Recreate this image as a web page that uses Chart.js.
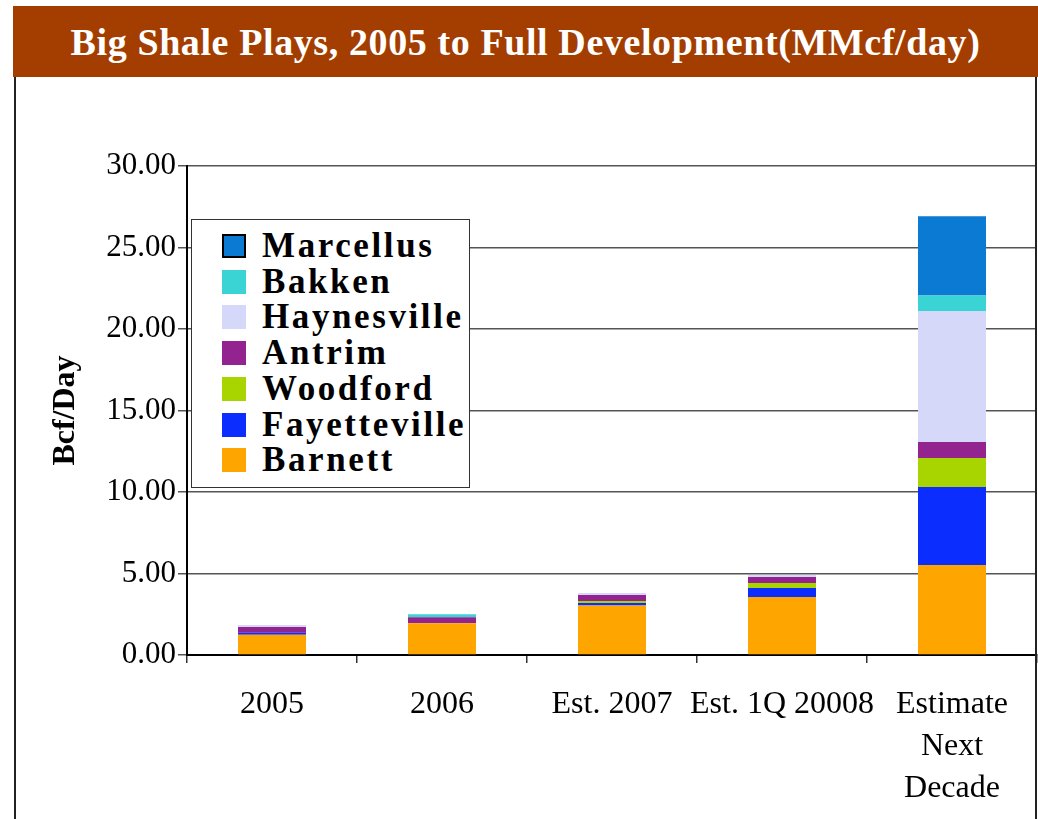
<!DOCTYPE html>
<html>
<head>
<meta charset="utf-8">
<script src="https://cdn.jsdelivr.net/npm/chart.js@4.4.1/dist/chart.umd.min.js"></script>
<style>
  html, body { margin: 0; padding: 0; background: #fff; }
  body { width: 1038px; height: 819px; position: relative; overflow: hidden; }
  #title {
    position: absolute; left: 13px; top: 6px; width: 1025px; height: 71px;
    background: #A33E00; color: #fff; z-index: 2;
    font-family: "Liberation Serif", serif; font-weight: bold; font-size: 38px;
    line-height: 72px; text-align: center; letter-spacing: 0.6px;
  }
  #frameL { position: absolute; left: 14px; top: 77px; width: 2px; height: 742px; background: #222; z-index: 2; }
  #frameR { position: absolute; left: 1035px; top: 77px; width: 2px; height: 742px; background: #222; z-index: 2; }
  #wrap { position: absolute; left: 0; top: 0; width: 1038px; height: 819px; }
  #legend {
    position: absolute; left: 191px; top: 219px; width: 279px; height: 269px;
    border: 1.5px solid #333; background: #fff; z-index: 3; box-sizing: border-box;
  }
  .row { position: absolute; left: 0; height: 36px; width: 100%; }
  .sw { position: absolute; left: 30px; top: 6px; width: 24px; height: 24px; box-sizing: border-box; }
  .lbl { position: absolute; left: 70px; top: 0; line-height: 36px;
    font-family: "Liberation Serif", serif; font-weight: bold; font-size: 35px; color: #000; letter-spacing: 2.6px; white-space: nowrap; }
</style>
</head>
<body>
<div id="title">Big Shale Plays, 2005 to Full Development(MMcf/day)</div>
<div id="frameL"></div>
<div id="frameR"></div>
<div id="wrap"><canvas id="c" width="1038" height="819"></canvas></div>
<div id="legend"></div>
<script>
const categories = ['2005', '2006', 'Est. 2007', 'Est. 1Q 20008', ['Estimate', 'Next', 'Decade']];
const seriesNames = ['Barnett', 'Fayetteville', 'Woodford', 'Antrim', 'Haynesville', 'Bakken', 'Marcellus'];
const barnett      = [1.25, 1.95, 3.03, 3.56, 5.52];
const fayetteville = [0.12, 0.00, 0.16, 0.55, 4.79];
const woodford     = [0.00, 0.00, 0.12, 0.31, 1.78];
const antrim       = [0.35, 0.37, 0.37, 0.37, 0.98];
const haynesville  = [0.12, 0.00, 0.12, 0.12, 8.03];
const bakken       = [0.00, 0.18, 0.00, 0.00, 0.96];
const marcellus    = [0.00, 0.00, 0.00, 0.00, 4.86];
const yTicks = [0, 5, 10, 15, 20, 25, 30];

const seriesValues = [barnett, fayetteville, woodford, antrim, haynesville, bakken, marcellus];
const colors = ['#FFA500', '#0B2EFF', '#A8D400', '#92238F', '#D6D8FA', '#3AD4D4', '#0A7AD2'];

const datasets = seriesNames.map((n, i) => ({
  label: n,
  data: seriesValues[i],
  backgroundColor: colors[i],
  borderWidth: 0,
  categoryPercentage: 1.0,
  barPercentage: 0.4
}));

const serif = '"Liberation Serif", serif';

const chart = new Chart(document.getElementById('c'), {
  type: 'bar',
  data: { labels: categories, datasets },
  options: {
    responsive: false,
    animation: false,
    layout: { padding: { top: 166, left: 47, right: 1, bottom: 0 } },
    plugins: { legend: { display: false }, tooltip: { enabled: false } },
    scales: {
      x: {
        stacked: true,
        offset: true,
        grid: { display: true, drawOnChartArea: false, drawTicks: true, tickLength: 8, color: '#333', lineWidth: 1.5, offset: true },
        border: { display: true, color: '#000', width: 2 },
        ticks: { color: '#000', font: { family: serif, size: 32, lineHeight: 1.31 }, padding: 21, maxRotation: 0, autoSkip: false },
        afterFit: (s) => { s.height = 164; }
      },
      y: {
        stacked: true,
        min: 0, max: 30,
        afterBuildTicks: (s) => { s.ticks = yTicks.map(v => ({ value: v })); },
        grid: { color: '#555', lineWidth: 1.5, tickLength: 9, drawTicks: true },
        border: { display: true, color: '#000', width: 2 },
        ticks: { color: '#000', font: { family: serif, size: 31 }, padding: 2, callback: (v) => Number(v).toFixed(2) },
        title: { display: true, text: 'Bcf/Day', color: '#000', font: { family: serif, size: 32, weight: 'bold' }, padding: { top: 0, bottom: 0 } },
        afterFit: (s) => { s.width = 140; }
      }
    }
  }
});

// HTML legend built from the chart's datasets (reverse order: Marcellus on top)
const legend = document.getElementById('legend');
const items = chart.data.datasets.map((d, i) => ({ label: d.label, color: d.backgroundColor, i })).reverse();
items.forEach((it, k) => {
  const row = document.createElement('div');
  row.className = 'row';
  row.style.top = (8 + k * 35.7) + 'px';
  const sw = document.createElement('div');
  sw.className = 'sw';
  sw.style.background = it.color;
  if (it.label === 'Marcellus') sw.style.border = '2px solid #000';
  const lb = document.createElement('div');
  lb.className = 'lbl';
  lb.textContent = it.label;
  row.appendChild(sw); row.appendChild(lb);
  legend.appendChild(row);
});
</script>
</body>
</html>
